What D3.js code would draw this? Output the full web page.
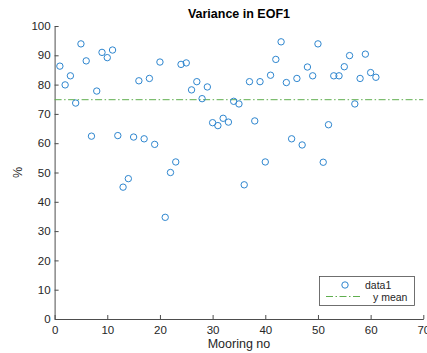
<!DOCTYPE html>
<html><head><meta charset="utf-8">
<script src="https://cdn.jsdelivr.net/npm/d3@7"></script>
<style>body{margin:0;background:#fff}svg{display:block}text{font-family:"Liberation Sans",Arial,Helvetica,sans-serif}</style>
</head><body>
<script>
const moorings = d3.range(1, 62);
const variance = [86.3,79.9,83.0,73.7,93.9,88.1,62.4,77.8,91.0,89.2,
  91.8,62.6,45.0,47.9,62.1,81.3,61.5,82.1,59.6,87.7,
  34.7,50.0,53.6,86.9,87.4,78.2,81.0,75.2,79.2,67.0,
  66.0,68.5,67.2,74.3,73.4,45.8,81.0,67.6,81.0,53.6,
  83.2,88.6,94.6,80.7,61.5,82.1,59.4,86.0,83.0,93.9,
  53.5,66.3,83.0,83.0,86.1,89.9,73.4,82.1,90.4,84.1,82.5];
const xTicks = [0,10,20,30,40,50,60,70];
const yTicks = [0,10,20,30,40,50,60,70,80,90,100];
const legendLabels = ["data1","y mean"];
const title = "Variance in EOF1", xLabel = "Mooring no", yLabel = "%";

const W = 427, H = 353;
const m = {l:54.6, r:3.7, t:26, b:34};
const svg = d3.select("body").append("svg").attr("width",W).attr("height",H);
const x = d3.scaleLinear().domain([0,70]).range([m.l, W-m.r]);
const y = d3.scaleLinear().domain([0,100]).range([H-m.b, m.t]);
const axisCol = "#4d4d4d", textCol = "#262626";

const gx = svg.append("g").attr("transform",`translate(0,${H-m.b})`)
  .call(d3.axisBottom(x).tickValues(xTicks).tickSizeInner(-4).tickSizeOuter(0).tickPadding(7));
const gy = svg.append("g").attr("transform",`translate(${m.l},0)`)
  .call(d3.axisLeft(y).tickValues(yTicks).tickSizeInner(-4).tickSizeOuter(0).tickPadding(4));
[gx,gy].forEach(g=>{
  g.select(".domain").attr("stroke",axisCol);
  g.selectAll(".tick line").attr("stroke",axisCol);
  g.selectAll(".tick text").attr("fill",textCol).attr("font-size",11.5).attr("font-family",'"Liberation Sans",Arial,sans-serif');
});

const mean = d3.mean(variance);
const meanCol = "#5fae4e", ptCol = "#2e86cf";
const dash = "7,2.5,1.5,2.5";
svg.append("line").attr("x1",x(0)).attr("x2",x(70)).attr("y1",y(mean)).attr("y2",y(mean))
  .attr("stroke",meanCol).attr("stroke-width",1).attr("stroke-dasharray",dash);

svg.append("g").selectAll("circle").data(variance).join("circle")
  .attr("cx",(d,i)=>x(moorings[i])).attr("cy",d=>y(d)).attr("r",3.2)
  .attr("fill","none").attr("stroke",ptCol).attr("stroke-width",1);

svg.append("text").attr("x",(x(0)+x(70))/2).attr("y",18).attr("text-anchor","middle")
  .attr("font-weight","bold").attr("font-size",12.5).attr("fill","#000").text(title);
svg.append("text").attr("x",(x(0)+x(70))/2).attr("y",348).attr("text-anchor","middle")
  .attr("font-size",12.5).attr("fill",textCol).text(xLabel);
svg.append("text").attr("transform",`translate(22,${(y(0)+y(100))/2}) rotate(-90)`).attr("text-anchor","middle")
  .attr("font-size",12.5).attr("fill",textCol).text(yLabel);

// legend
const lg = svg.append("g");
lg.append("rect").attr("x",319.5).attr("y",276.5).attr("width",95).attr("height",29)
  .attr("fill","#fff").attr("stroke",axisCol).attr("stroke-width",0.8);
lg.append("circle").attr("cx",345).attr("cy",285).attr("r",3.2).attr("fill","none").attr("stroke",ptCol);
lg.append("line").attr("x1",326).attr("x2",362).attr("y1",296.5).attr("y2",296.5)
  .attr("stroke",meanCol).attr("stroke-dasharray",dash);
lg.append("text").attr("x",365).attr("y",289).attr("font-size",10.5).attr("fill",textCol).text(legendLabels[0]);
lg.append("text").attr("x",373).attr("y",300.5).attr("font-size",10.5).attr("fill",textCol).text(legendLabels[1]);
</script>
</body></html>
